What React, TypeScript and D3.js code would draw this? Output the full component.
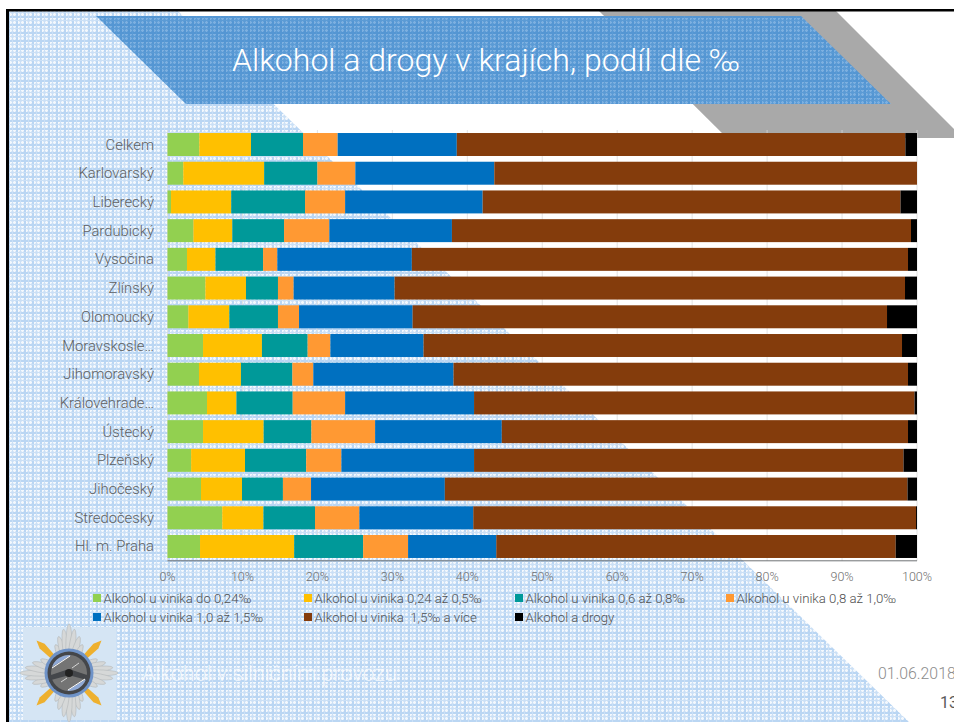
import React from "react";
import * as d3 from "d3";

const categories = ["Celkem","Karlovarský","Liberecký","Pardubický","Vysočina","Zlínský","Olomoucký","Moravskosle…","Jihomoravský","Královehrade…","Ústecký","Plzeňský","Jihočeský","Středočeský","Hl. m. Praha"];
const s1 = [4.24,2.1,0.47,3.45,2.6,5.05,2.78,4.74,4.2,5.27,4.74,3.15,4.47,7.3,4.34];
const s2 = [6.9,10.8,8.03,5.2,3.8,5.42,5.47,7.86,5.6,3.93,8.09,7.19,5.47,5.5,12.56];
const s3 = [6.94,7.1,9.85,6.9,6.35,4.27,6.49,6.1,6.86,7.5,6.37,8.16,5.46,6.88,9.2];
const s4 = [4.62,5.06,5.35,6.05,1.9,2.09,2.81,3.03,2.8,7.0,8.5,4.7,3.75,5.92,6.0];
const s5 = [15.9,18.54,18.35,16.35,17.95,13.47,15.15,12.43,18.7,17.2,16.9,17.7,17.85,15.2,11.77];
const s6 = [59.85,56.4,55.75,61.25,66.2,68.1,63.3,63.84,60.64,58.77,54.2,57.3,61.73,59.07,53.29];
const s7 = [1.55,0,2.2,0.8,1.2,1.6,4,2,1.2,0.33,1.2,1.8,1.27,0.13,2.84];
const seriesValues = [s1,s2,s3,s4,s5,s6,s7];
const seriesNames = ["Alkohol u vinika do 0,24‰","Alkohol u vinika 0,24 až 0,5‰","Alkohol u vinika 0,6 až 0,8‰","Alkohol u vinika 0,8 až 1,0‰","Alkohol u vinika 1,0 až 1,5‰","Alkohol u vinika  1,5‰ a více","Alkohol a drogy"];
const seriesColors = ["#92D050","#FFC000","#009999","#FF9933","#0070C0","#843C0C","#000000"];
const tickValues = [0,10,20,30,40,50,60,70,80,90,100];
const title = "Alkohol a drogy v krajích, podíl dle ‰";
const footer = "Alkohol v silničním provozu";
const dateText = "01.06.2018";
const pageNumber = "13";

const font = "Roboto, sans-serif";

function Plaid({ id, base, strong, soft, light }: { id: string; base: string; strong: string; soft: string; light: string }) {
  return (
    <pattern id={id} width={8} height={8} patternUnits="userSpaceOnUse">
      <rect width={8} height={8} fill={base} />
      <rect x={2} y={0} width={1} height={8} fill={light} />
      <rect x={6} y={0} width={1} height={8} fill={light} />
      <rect x={0} y={2} width={8} height={1} fill={light} />
      <rect x={0} y={6} width={8} height={1} fill={light} />
      <rect x={0} y={0} width={2} height={8} fill={strong} />
      <rect x={0} y={0} width={8} height={2} fill={strong} />
      <rect x={4} y={0} width={1} height={8} fill={soft} />
      <rect x={0} y={4} width={8} height={1} fill={soft} />
    </pattern>
  );
}

function Emblem() {
  const cx = 69, cy = 673;
  const angles4 = [0, 90, 180, 270];
  const fan = [-32, -20, -9, 0, 9, 20, 32];
  return (
    <g>
      <rect x={23} y={627} width={93} height={93} fill="#d5e5f4" />
      {angles4.map(a => (
        <g key={a} transform={`translate(${cx},${cy}) rotate(${a})`}>
          {fan.map(f => {
            const len = 46 - Math.abs(f) * 0.55;
            return (
              <ellipse key={f} cx={0} cy={-len / 2 - 3} rx={3.2} ry={len / 2}
                transform={`rotate(${f * 0.8})`} fill="#d6d8d8" stroke="#b4b8ba" strokeWidth={0.6} />
            );
          })}
        </g>
      ))}
      {[45, 135, 225, 315].map(a => (
        <g key={a} transform={`translate(${cx},${cy}) rotate(${a})`}>
          <path d="M-2.5,-23 L-3.5,-38 L0,-46 L3.5,-38 L2.5,-23 Z" fill="#eeb02e" />
        </g>
      ))}
      <circle cx={cx} cy={cy} r={24.5} fill="#6f93c8" />
      <circle cx={cx} cy={cy} r={21.5} fill="#44464a" />
      <circle cx={cx} cy={cy} r={18} fill="#747474" />
      <path d={`M${cx - 17},${cy - 6} A18,18 0 0 1 ${cx + 2},${cy - 18} Z`} fill="#8fa9d6" />
      <path d={`M${cx + 17},${cy + 6} A18,18 0 0 1 ${cx - 2},${cy + 18} Z`} fill="#8fa9d6" />
      <path d={`M${cx - 18},${cy + 2} L${cx - 3},${cy - 3} L${cx + 3},${cy - 3} L${cx + 18},${cy + 2} L${cx + 18},${cy + 7} L${cx + 3},${cy + 3} L${cx - 3},${cy + 3} L${cx - 18},${cy + 7} Z`} fill="#44464a" />
      <line x1={cx - 17} y1={cy - 5} x2={cx + 1} y2={cy - 17} stroke="#fff" strokeWidth={1} />
      <line x1={cx - 1} y1={cy + 17} x2={cx + 16} y2={cy + 6} stroke="#fff" strokeWidth={1} />
      <line x1={cx - 8} y1={cy + 9} x2={cx - 2} y2={cy + 5} stroke="#fff" strokeWidth={0.7} />
      <line x1={cx + 3} y1={cy - 5} x2={cx + 10} y2={cy - 10} stroke="#fff" strokeWidth={0.7} />
      <circle cx={cx} cy={cy} r={4} fill="#222" />
    </g>
  );
}

export default function App() {
  const x = d3.scaleLinear().domain([0, 100]).range([167.5, 917]);
  const y = d3.scaleBand<string>().domain(categories).range([130.15, 560.85]).paddingInner(0.2).paddingOuter(0.1);
  const rows = categories.map((c, i) => {
    const r: Record<string, number | string> = { c };
    seriesValues.forEach((s, k) => { r[`s${k}`] = s[i]; });
    return r;
  });
  const stack = d3.stack<any>().keys(seriesValues.map((_, k) => `s${k}`))(rows);
  const legendX = [93, 304, 515, 726];
  const legendY = [598, 617];

  return (
    <svg width={954} height={722} viewBox="0 0 954 722"
      style={{ position: "absolute", left: 0, top: 0, display: "block", background: "#fff" }}>
      <defs>
        <Plaid id="grid" base="#dbe9f8" strong="#bad6f3" soft="#cbe0f6" light="#f3f8fd" />
        <Plaid id="gridBlue" base="#629fd8" strong="#5496d3" soft="#5b9bd5" light="#7db0e0" />
      </defs>

      {/* slide background */}
      <polygon points="8,11 178,11 909,722 8,722" fill="url(#grid)" />
      <polygon points="599,11 836,11 954,129 954,138 727,138" fill="#a9a9a9" />
      <polygon points="96,16 801,16 891,104 186,104" fill="url(#gridBlue)" />
      <rect x={6} y={9} width={948} height={2.5} fill="#000" />
      <rect x={6} y={9} width={3} height={713} fill="#000" />
      <text x={486} y={71} textAnchor="middle" fontFamily={font} fontWeight={300} fontSize={32} fill="#fff">{title}</text>

      {/* gridlines */}
      {tickValues.map(t => (
        <line key={t} x1={x(t)} x2={x(t)} y1={130} y2={561} stroke="#d9d9d9" strokeWidth={0.75} />
      ))}

      {/* bars */}
      {stack.map((layer, k) => (
        <g key={k} fill={seriesColors[k]}>
          {layer.map((d, i) => (
            <rect key={i} x={x(d[0])} y={y(categories[i])} width={x(d[1]) - x(d[0])} height={y.bandwidth()} />
          ))}
        </g>
      ))}

      {/* axes */}
      <line x1={x(0)} x2={x(100)} y1={560.8} y2={560.8} stroke="#6f7276" strokeWidth={1} />
      {tickValues.map(t => (
        <text key={t} x={x(t)} y={581} textAnchor="middle" fontFamily={font} fontWeight={300} fontSize={12.5} fill="#6f6f6f">{t}%</text>
      ))}
      {categories.map(c => (
        <text key={c} x={154} y={y(c)! + y.bandwidth() / 2 + 5} textAnchor="end" fontFamily={font} fontWeight={300} fontSize={14.8} fill="#5f5f5f">{c}</text>
      ))}

      {/* legend */}
      {seriesNames.map((n, i) => {
        const col = i % 4, row = Math.floor(i / 4);
        return (
          <g key={n}>
            <rect x={legendX[col]} y={legendY[row] - 4} width={8} height={8} fill={seriesColors[i]} />
            <text x={legendX[col] + 10.5} y={legendY[row] + 4.5} xmlSpace="preserve" fontFamily={font} fontWeight={300} fontSize={13.2} fill="#4f4f4f">{n}</text>
          </g>
        );
      })}

      <Emblem />
      <text x={142} y={681} fontFamily={font} fontWeight={300} fontSize={21.5} fill="#fff" fillOpacity={0.7}>{footer}</text>
      <text x={878} y={679} fontFamily={font} fontWeight={300} fontSize={15.8} fill="#8c8c8c">{dateText}</text>
      <text x={940} y={708} fontFamily={font} fontWeight={400} fontSize={16} fill="#595959">{pageNumber}</text>
    </svg>
  );
}
